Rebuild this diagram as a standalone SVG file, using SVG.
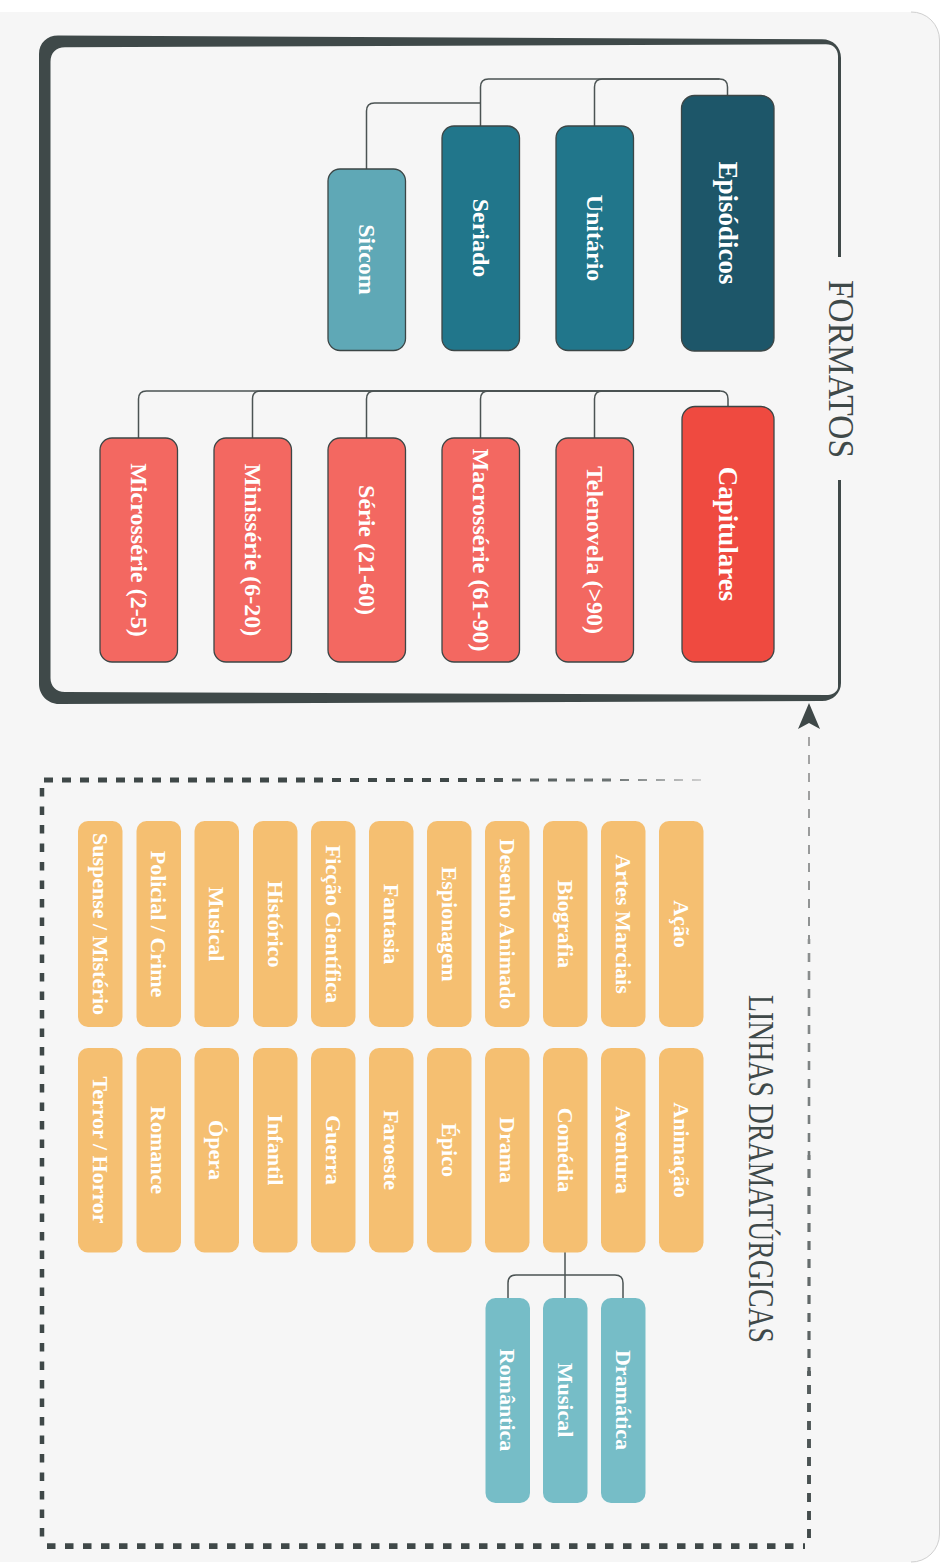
<svg xmlns="http://www.w3.org/2000/svg" width="949" height="1564" viewBox="0 0 949 1564">
  <defs>
    <style>
      .lbl{font-family:"Liberation Serif","Times New Roman",serif;font-weight:bold;fill:#ffffff;text-anchor:middle;dominant-baseline:central}
      .big{font-size:27px}
      .mid{font-size:24px}
      .sm{font-size:22px}
      .title{font-family:"Liberation Serif","Times New Roman",serif;font-size:35px;fill:#3f4949;text-anchor:middle;dominant-baseline:central}
      .fmt{stroke:#3c4646;stroke-width:1.3}
      .ep{fill:#1d5669}
      .un{fill:#21768b}
      .sit{fill:#5fa8b6}
      .cap{fill:#ef4a40}
      .capc{fill:#f36861}
      .gen{fill:#f5bf71}
      .sub{fill:#76bdc7}
      .link{fill:none;stroke:#4b5353;stroke-width:1.5}
      .dash{fill:none;stroke-dasharray:9 9}
    </style>
    <marker id="arrow" viewBox="0 0 26 22" refX="0" refY="11" markerWidth="26" markerHeight="22" markerUnits="userSpaceOnUse" orient="auto-start-reverse">
      <path d="M0,0 L26,11 L0,22 L6,11 Z" fill="#3f4848"/>
    </marker>
    <linearGradient id="fadeTop" gradientUnits="userSpaceOnUse" x1="44" y1="0" x2="704" y2="0">
      <stop offset="0" stop-color="#3f4848"/>
      <stop offset="0.62" stop-color="#3f4848"/>
      <stop offset="0.86" stop-color="#6c7373"/>
      <stop offset="1" stop-color="#d2d2d2"/>
    </linearGradient>
    <linearGradient id="fadeSide" gradientUnits="userSpaceOnUse" x1="0" y1="729" x2="0" y2="1546">
      <stop offset="0" stop-color="#a6a6a6"/>
      <stop offset="0.5" stop-color="#767c7c"/>
      <stop offset="1" stop-color="#3f4848"/>
    </linearGradient>
    <mask id="titleGap" maskUnits="userSpaceOnUse" x="0" y="0" width="949" height="1564">
      <rect x="0" y="0" width="949" height="1564" fill="#fff"/>
      <rect x="826" y="257" width="24" height="223" fill="#000"/>
    </mask>
  </defs>

  <!-- page -->
  <rect x="0" y="0" width="949" height="1564" fill="#ffffff"/>
  <path d="M-30,12 H911 A28,28 0 0 1 939.5,40 V1534 A28,28 0 0 1 911,1562 H-30 Z" fill="#f6f6f6"/>
  <path d="M911,12 A28,28 0 0 1 939.5,40 V1534 A28,28 0 0 1 911,1562" fill="none" stroke="#cfcfcf" stroke-width="1"/>

  <!-- FORMATOS container -->
  <g id="formatos">
    <path mask="url(#titleGap)" fill="#3f4949" fill-rule="evenodd"
      d="M39,54 C39,43 47,35.5 58,35.5 L822,39.3 C833,39.3 841,47 841,58 L841,683 C841,693 833,701 822,701 L59,704 C48,704 39,695 39,684 Z
         M50.5,62 C50.5,53 56,47.3 65,47.3 L826,44.3 C833,44.3 838,49 838,56 L838,687 C838,691 833,695 828,695 L65,692 C56,692 50.5,686 50.5,678 Z"/>
    <text class="title" transform="translate(840,369) rotate(90)" textLength="178" lengthAdjust="spacingAndGlyphs">FORMATOS</text>
  </g>

  <!-- LINHAS DRAMATÚRGICAS container -->
  <g id="linhas">
    <path class="dash" d="M44,780 H332" stroke="url(#fadeTop)" stroke-width="5"/>
    <path class="dash" d="M332,780 H512" stroke="url(#fadeTop)" stroke-width="4"/>
    <path class="dash" d="M512,780 H620" stroke="url(#fadeTop)" stroke-width="3"/>
    <path class="dash" d="M620,780 H704" stroke="url(#fadeTop)" stroke-width="1.8"/>
    <path d="M42,788 V1541" fill="none" stroke="#3f4848" stroke-width="4.5" stroke-dasharray="8.5 10"/>
    <path d="M47,1546.2 H805" fill="none" stroke="#3f4848" stroke-width="5.7" stroke-dasharray="8.5 9.5"/>
    <text class="title" transform="translate(760,1169) rotate(90)" textLength="348" lengthAdjust="spacingAndGlyphs">LINHAS DRAMATÚRGICAS</text>
  </g>

  <!-- connectors -->
  <g id="connectors">
    <!-- Episódicos tree -->
    <path class="link" d="M594.5,126 V87 Q594.5,79 602.5,79 H719.5 Q727.5,79 727.5,87 V95"/>
    <path class="link" d="M480.5,126 V87 Q480.5,79 488.5,79 H719.5"/>
    <path class="link" d="M366.5,169 V111 Q366.5,103 374.5,103 H480.5"/>
    <!-- Capitulares tree -->
    <path class="link" d="M594.5,438 V399 Q594.5,391 602.5,391 H720 Q728,391 728,399 V407"/>
    <path class="link" d="M480.5,438 V399 Q480.5,391 488.5,391 H720"/>
    <path class="link" d="M366.5,438 V399 Q366.5,391 374.5,391 H720"/>
    <path class="link" d="M252.5,438 V399 Q252.5,391 260.5,391 H720"/>
    <path class="link" d="M138.5,438 V399 Q138.5,391 146.5,391 H720"/>
    <!-- Comédia tree -->
    <path class="link" d="M565,1252 V1298"/>
    <path class="link" d="M565,1275 H516 Q508,1275 508,1283 V1298"/>
    <path class="link" d="M565,1275 H615 Q623,1275 623,1283 V1298"/>
    <!-- Linhas dramatúrgicas to Formatos -->
    <path class="dash" d="M809,729 V939" stroke="url(#fadeSide)" stroke-width="2" stroke-dashoffset="10" marker-start="url(#arrow)"/>
    <path class="dash" d="M809,939 V1155" stroke="url(#fadeSide)" stroke-width="2.6" stroke-dashoffset="4"/>
    <path class="dash" d="M809,1155 V1371" stroke="url(#fadeSide)" stroke-width="3.2" stroke-dashoffset="4"/>
    <path class="dash" d="M809,1371 V1546" stroke="url(#fadeSide)" stroke-width="3.9" stroke-dashoffset="4"/>
  </g>

  <!-- episodic formats -->
  <g id="episodicos">
    <rect class="ep fmt" x="681.5" y="95.5" width="92.5" height="255.5" rx="13"/>
    <text class="lbl big" transform="translate(727.5,223) rotate(90)">Episódicos</text>
  </g>
  <g id="unitario">
    <rect class="un fmt" x="556" y="126" width="77.5" height="224.5" rx="12"/>
    <text class="lbl mid" transform="translate(594.5,238) rotate(90)">Unitário</text>
  </g>
  <g id="seriado">
    <rect class="un fmt" x="442" y="126" width="77.5" height="224.5" rx="12"/>
    <text class="lbl mid" transform="translate(480.5,238) rotate(90)">Seriado</text>
  </g>
  <g id="sitcom">
    <rect class="sit fmt" x="328" y="169" width="77.5" height="181.5" rx="12"/>
    <text class="lbl mid" transform="translate(366.5,259.5) rotate(90)">Sitcom</text>
  </g>

  <!-- chapter formats -->
  <g id="capitulares">
    <rect class="cap fmt" x="682" y="406.5" width="92" height="255.5" rx="13"/>
    <text class="lbl big" transform="translate(728,534) rotate(90)">Capitulares</text>
  </g>
  <g id="telenovela">
    <rect class="capc fmt" x="556" y="438" width="77.5" height="224" rx="12"/>
    <text class="lbl mid" transform="translate(594.5,550) rotate(90)">Telenovela (&gt;90)</text>
  </g>
  <g id="macrosserie">
    <rect class="capc fmt" x="442" y="438" width="77.5" height="224" rx="12"/>
    <text class="lbl mid" transform="translate(480.5,550) rotate(90)">Macrossérie (61-90)</text>
  </g>
  <g id="serie">
    <rect class="capc fmt" x="328" y="438" width="77.5" height="224" rx="12"/>
    <text class="lbl mid" transform="translate(366.5,550) rotate(90)">Série (21-60)</text>
  </g>
  <g id="minisserie">
    <rect class="capc fmt" x="214" y="438" width="77.5" height="224" rx="12"/>
    <text class="lbl mid" transform="translate(252.5,550) rotate(90)">Minissérie (6-20)</text>
  </g>
  <g id="microsserie">
    <rect class="capc fmt" x="100" y="438" width="77.5" height="224" rx="12"/>
    <text class="lbl mid" transform="translate(138.5,550) rotate(90)">Microssérie (2-5)</text>
  </g>

  <!-- genres, first column -->
  <g id="acao"><rect class="gen" x="659" y="821" width="44.5" height="206" rx="10"/><text class="lbl sm" transform="translate(681.2,924) rotate(90)">Ação</text></g>
  <g id="artes-marciais"><rect class="gen" x="601" y="821" width="44.5" height="206" rx="10"/><text class="lbl sm" transform="translate(623.2,924) rotate(90)">Artes Marciais</text></g>
  <g id="biografia"><rect class="gen" x="543" y="821" width="44.5" height="206" rx="10"/><text class="lbl sm" transform="translate(565.2,924) rotate(90)">Biografia</text></g>
  <g id="desenho-animado"><rect class="gen" x="485" y="821" width="44.5" height="206" rx="10"/><text class="lbl sm" transform="translate(507.2,924) rotate(90)">Desenho Animado</text></g>
  <g id="espionagem"><rect class="gen" x="427" y="821" width="44.5" height="206" rx="10"/><text class="lbl sm" transform="translate(449.2,924) rotate(90)">Espionagem</text></g>
  <g id="fantasia"><rect class="gen" x="369" y="821" width="44.5" height="206" rx="10"/><text class="lbl sm" transform="translate(391.2,924) rotate(90)">Fantasia</text></g>
  <g id="ficcao-cientifica"><rect class="gen" x="311" y="821" width="44.5" height="206" rx="10"/><text class="lbl sm" transform="translate(333.2,924) rotate(90)">Ficção Científica</text></g>
  <g id="historico"><rect class="gen" x="253" y="821" width="44.5" height="206" rx="10"/><text class="lbl sm" transform="translate(275.2,924) rotate(90)">Histórico</text></g>
  <g id="musical"><rect class="gen" x="194.5" y="821" width="44.5" height="206" rx="10"/><text class="lbl sm" transform="translate(216.7,924) rotate(90)">Musical</text></g>
  <g id="policial-crime"><rect class="gen" x="136.5" y="821" width="44.5" height="206" rx="10"/><text class="lbl sm" transform="translate(158.7,924) rotate(90)">Policial / Crime</text></g>
  <g id="suspense-misterio"><rect class="gen" x="78" y="821" width="44.5" height="206" rx="10"/><text class="lbl sm" transform="translate(100.2,924) rotate(90)">Suspense / Mistério</text></g>

  <!-- genres, second column -->
  <g id="animacao"><rect class="gen" x="659" y="1048" width="44.5" height="204.5" rx="10"/><text class="lbl sm" transform="translate(681.2,1150) rotate(90)">Animação</text></g>
  <g id="aventura"><rect class="gen" x="601" y="1048" width="44.5" height="204.5" rx="10"/><text class="lbl sm" transform="translate(623.2,1150) rotate(90)">Aventura</text></g>
  <g id="comedia"><rect class="gen" x="543" y="1048" width="44.5" height="204.5" rx="10"/><text class="lbl sm" transform="translate(565.2,1150) rotate(90)">Comédia</text></g>
  <g id="drama"><rect class="gen" x="485" y="1048" width="44.5" height="204.5" rx="10"/><text class="lbl sm" transform="translate(507.2,1150) rotate(90)">Drama</text></g>
  <g id="epico"><rect class="gen" x="427" y="1048" width="44.5" height="204.5" rx="10"/><text class="lbl sm" transform="translate(449.2,1150) rotate(90)">Épico</text></g>
  <g id="faroeste"><rect class="gen" x="369" y="1048" width="44.5" height="204.5" rx="10"/><text class="lbl sm" transform="translate(391.2,1150) rotate(90)">Faroeste</text></g>
  <g id="guerra"><rect class="gen" x="311" y="1048" width="44.5" height="204.5" rx="10"/><text class="lbl sm" transform="translate(333.2,1150) rotate(90)">Guerra</text></g>
  <g id="infantil"><rect class="gen" x="253" y="1048" width="44.5" height="204.5" rx="10"/><text class="lbl sm" transform="translate(275.2,1150) rotate(90)">Infantil</text></g>
  <g id="opera"><rect class="gen" x="194.5" y="1048" width="44.5" height="204.5" rx="10"/><text class="lbl sm" transform="translate(216.7,1150) rotate(90)">Ópera</text></g>
  <g id="romance"><rect class="gen" x="136.5" y="1048" width="44.5" height="204.5" rx="10"/><text class="lbl sm" transform="translate(158.7,1150) rotate(90)">Romance</text></g>
  <g id="terror-horror"><rect class="gen" x="78" y="1048" width="44.5" height="204.5" rx="10"/><text class="lbl sm" transform="translate(100.2,1150) rotate(90)">Terror / Horror</text></g>

  <!-- comedy subgenres -->
  <g id="comedia-dramatica"><rect class="sub" x="601" y="1298" width="44.5" height="205" rx="10"/><text class="lbl sm" transform="translate(623.2,1400) rotate(90)">Dramática</text></g>
  <g id="comedia-musical"><rect class="sub" x="543" y="1298" width="44.5" height="205" rx="10"/><text class="lbl sm" transform="translate(565.2,1400) rotate(90)">Musical</text></g>
  <g id="comedia-romantica"><rect class="sub" x="485.5" y="1298" width="44.5" height="205" rx="10"/><text class="lbl sm" transform="translate(507.7,1400) rotate(90)">Romântica</text></g>
</svg>
